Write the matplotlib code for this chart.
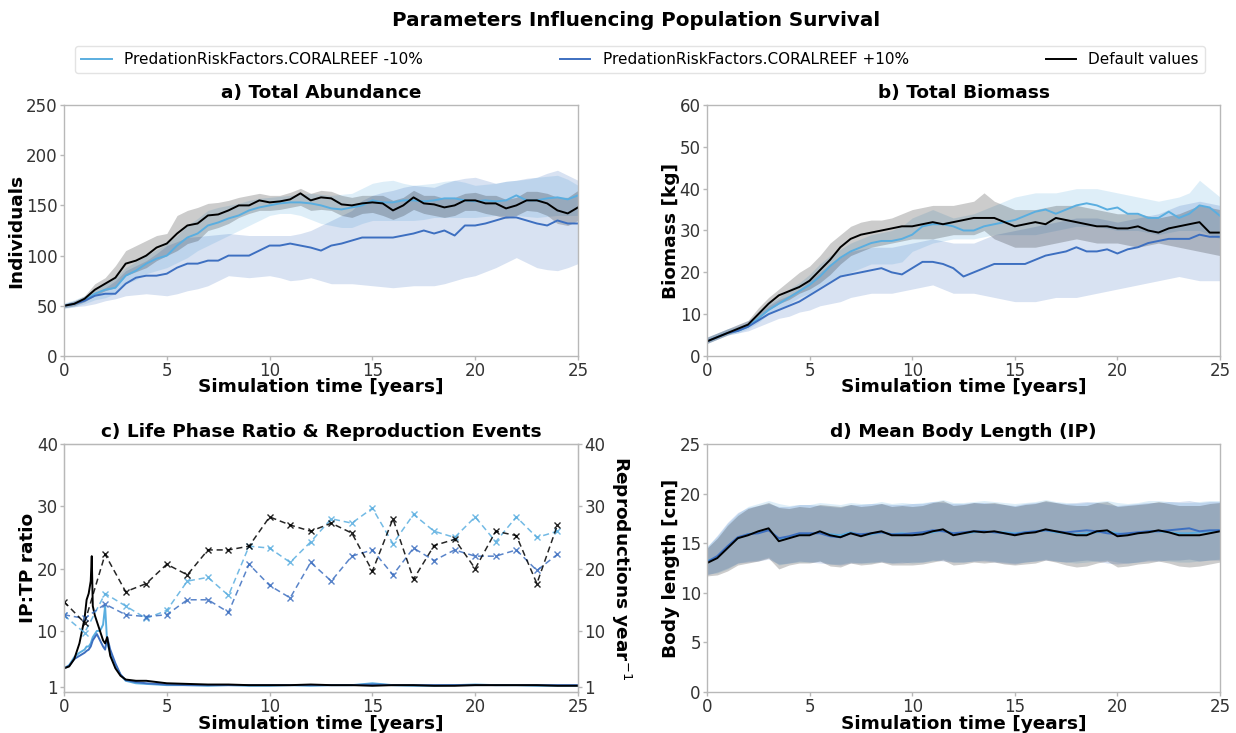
import numpy as np
import matplotlib
matplotlib.use("Agg")
import matplotlib.pyplot as plt
from matplotlib.lines import Line2D

# ---------------- data ----------------
years = np.arange(0, 25.5, 0.5)  # 0 .. 25, half-year steps

labels = ["PredationRiskFactors.CORALREEF -10%", "PredationRiskFactors.CORALREEF +10%", "Default values"]

# a) Total abundance
abund_def = [50,52,57,66,72,78,92,95,100,108,112,122,130,132,140,141,145,150,150,155,153,154,156,162,155,158,157,151,150,152,153,152,145,150,158,152,151,148,150,155,155,152,152,147,150,155,155,152,145,142,148]
abund_def_lo = [48,50,54,60,65,68,80,84,88,95,100,105,112,115,125,128,132,138,142,145,145,146,148,150,145,146,145,140,138,142,143,140,136,140,146,142,140,138,140,145,145,142,140,137,140,145,144,140,132,130,135]
abund_def_hi = [52,55,60,72,78,90,105,110,115,120,122,140,145,148,152,153,155,158,160,162,160,160,163,167,162,165,164,160,158,160,160,160,155,158,165,160,160,157,158,162,163,160,160,156,158,164,164,162,158,158,165]
abund_m10 = [50,52,56,62,66,68,80,85,92,97,100,110,118,122,130,133,137,140,145,148,150,152,153,153,152,150,147,146,148,150,155,153,153,155,155,154,155,157,157,155,154,155,154,155,160,155,155,157,158,156,160]
abund_m10_lo = [47,49,52,56,58,62,72,76,82,85,88,93,98,105,110,115,120,125,130,135,140,142,142,140,136,132,130,128,128,132,135,135,135,135,135,136,138,138,138,138,138,139,140,140,140,139,138,139,140,140,140]
abund_m10_hi = [53,56,60,66,72,78,88,94,100,106,112,120,130,137,145,148,150,152,155,157,158,159,160,161,162,161,160,161,162,167,172,174,175,172,170,171,172,174,175,173,170,171,172,174,175,176,178,179,180,176,170]
abund_p10 = [50,52,55,60,62,62,72,78,80,80,82,88,92,92,95,95,100,100,100,105,110,110,112,110,108,105,110,112,115,118,118,118,118,120,122,125,122,125,120,130,130,132,135,138,138,135,132,130,135,132,132]
abund_p10_lo = [48,49,50,52,55,57,60,61,62,61,60,62,65,67,70,75,80,79,78,79,80,78,75,76,78,75,72,72,72,71,70,69,68,69,70,70,70,72,75,78,80,84,88,93,98,93,88,86,85,88,92]
abund_p10_hi = [52,55,58,63,68,75,85,90,95,102,110,114,118,119,120,121,122,121,120,120,120,120,120,122,125,130,135,140,145,155,160,163,165,168,170,169,168,172,175,177,178,175,172,174,175,177,178,182,185,180,175]

# b) Total biomass
bio_def = [3.5,4.5,5.5,6.5,7.5,10,12.5,14.5,15.5,16.5,18,20.5,23,26,28,29,29.5,30,30.5,31,31,31.5,32,31.5,32,32.5,33,33,33,32,31,31.5,32,31.5,33,32.5,32,31.5,31,31,30.5,30.5,31,30,29.5,30.5,31,31.5,32,29.5,29.5]
bio_def_lo = [3,4,5,6,7,9,11,12.5,13.5,15,16,17.5,19.5,22,24,25,26,26.5,27,27.5,28,28,28,28.5,29,29,29,30,28,27,26,26,26,26.5,27,27.5,28,27.5,27,27,27,26.5,26,26.5,27,26.5,26,25.5,25,24.5,24]
bio_def_hi = [4.5,5.5,6.5,7.5,8.5,11.5,14,16,18,20,21.5,24,27,29,31,32,32.5,32.5,33,34,35,35.5,36,36,36,36.5,37,39,37,36,35,35,35,35.5,36,36,36,35.5,35,34.5,34,34,34,33.5,33,33.5,34,35,36,35.5,35]
bio_m10 = [3.5,4.5,5.5,6,7,9,11,12.5,14,15.5,17,19,21.5,23.5,25,26,27,27.5,27.5,28,29,31,31.5,31.5,31,30,30,31,31.5,32,32.5,33.5,34.5,35,34,35,36,36.5,36,35,35.5,34,34,33,33,34.5,33,34,36,35.5,33.5]
bio_m10_lo = [3,4,5,5.5,6.5,8,10,11,12.5,14,15,16.5,18,19,20,21,22,22,22,22.5,25,26,27,27.5,28,28,28,28.5,29,29,29,29,29,29.5,30,30.5,31,31,31,30.5,30,30,30,29.5,29,29.5,30,30,30,29,28]
bio_m10_hi = [4.5,5.5,6.5,7,8,10,12.5,14,16,17.5,19.5,22,24,25.5,27,28,29,29.5,30,31,33,34,35,34,33,33.5,34,35,36,37,38,38.5,39,39,39,39.5,40,40,40,39.5,39,38.5,38,37.5,37,37.5,38,39,42,40,38]
bio_p10 = [3.5,4.5,5.5,6,7,8.5,10,11,12,13,14.5,16,17.5,19,19.5,20,20.5,21,20,19.5,21,22.5,22.5,22,21,19,20,21,22,22,22,22,23,24,24.5,25,26,25,25,25.5,24.5,25.5,26,27,27.5,28,28,28,29,28.5,28.5]
bio_p10_lo = [3,4,5,5.5,6,7,8,9,9.5,10.5,11,12,12.5,13,14,14.5,15,15,15,15.5,16,16.5,17,16,15,15,15,14.5,14,13.5,13,13,13,13.5,14,14,14,14.5,15,15.5,16,16.5,17,17.5,18,18.5,19,18.5,18,18,18]
bio_p10_hi = [4.5,5.5,6.5,7.5,8.5,10,12,13.5,14.5,16,18,20,22,23.5,25,25.5,26,26,26,26.5,27,27.5,28,27.5,27,27,27,28,29,29.5,30,30.5,31,31.5,32,32.5,33,33,33,32.5,32,32.5,33,33.5,34,35,36,36.5,37,36.5,36]

# c) Life phase ratio (IP:TP) & reproduction events
ratio_t = [0,0.25,0.5,0.75,1.0,1.1,1.2,1.3,1.35,1.4,1.5,1.6,1.75,1.9,2.0,2.1,2.25,2.5,2.75,3,3.5,4,4.5,5,6,7,8,9,10,11,12,13,14,15,16,17,18,19,20,21,22,23,24,25]
ratio_def = [4,4.3,5.5,8,12,15,16,18,22,14,12.5,11.5,10,8.5,8,9,6,4,2.8,2.2,2,2,1.8,1.6,1.5,1.4,1.4,1.3,1.3,1.3,1.4,1.3,1.3,1.2,1.3,1.3,1.2,1.2,1.3,1.3,1.3,1.3,1.2,1.2]
ratio_m10 = [4,4.5,5.8,6.5,7,7.5,7.5,8,8.5,9,9.5,10,10,11,14,8,6.5,4.5,3,2,1.6,1.5,1.4,1.3,1.3,1.2,1.3,1.2,1.2,1.3,1.2,1.3,1.3,1.6,1.3,1.2,1.2,1.3,1.4,1.3,1.3,1.2,1.2,1.2]
ratio_p10 = [4,4.4,5.5,6,6.5,6.8,7,7.5,8,8.5,9,9.5,8.5,7.5,7,9,7,4.8,3,2.1,1.8,1.6,1.5,1.4,1.3,1.3,1.3,1.3,1.3,1.3,1.3,1.3,1.3,1.4,1.3,1.3,1.3,1.3,1.3,1.3,1.3,1.3,1.3,1.3]
repro_years = list(range(0, 25))
repro_def = [14.7,11.3,22.3,16.3,17.6,20.7,19,23,23,23.6,28.3,27,26,27.3,25.7,19.6,28,18.3,23.7,24.7,20,26,25.3,17.6,27]
repro_m10 = [12.5,9.7,16,14,12,13.3,18,18.6,15.7,23.6,23.3,21,24.3,28,27.3,29.7,24,28.7,26,25,28.3,24.3,28.3,25,26]
repro_p10 = [12.6,12,14.3,12.6,12.3,12.6,15,15,13,20.7,17.3,15.3,21,18,22,23,19,23.3,21.3,23,22,22,23,19.7,22.3]

# d) Mean body length (IP)
len_def = [13,13.5,14.5,15.5,15.8,16.2,16.5,15.2,15.5,15.8,15.8,16.2,15.8,15.6,16,15.7,16,16.2,15.8,15.8,15.8,15.9,16.2,16.4,15.8,16,16.2,16.1,16.2,16,15.8,16,16.1,16.4,16.2,16,15.8,15.8,16.2,16.3,15.7,15.8,16,16.1,16.3,16.1,15.8,15.8,15.8,16,16.2]
len_def_lo = [11.7,11.8,12.2,12.8,13.0,13.2,13.5,12.4,12.8,13.0,13.0,13.2,12.7,12.6,13.0,12.8,12.9,13.1,12.8,12.8,12.8,12.9,13.1,13.3,12.8,12.9,13.1,13.0,13.1,12.9,12.8,12.9,13.0,13.3,13.1,12.8,12.6,12.7,13.0,13.2,12.6,12.7,12.9,13.0,13.2,13.0,12.7,12.6,12.7,12.9,13.1]
len_def_hi = [14.5,15.5,16.8,17.8,18.5,18.8,19.1,18.6,18.5,18.7,18.6,18.9,18.8,18.7,18.9,18.7,18.8,19.0,18.7,18.8,18.7,18.8,19.1,19.3,18.8,18.9,19.1,19.0,19.1,18.9,18.7,18.9,19.0,19.3,19.1,18.9,18.8,18.8,19.1,19.2,18.7,18.8,18.9,19.0,19.2,19.0,18.8,18.8,18.8,19.0,19.1]
len_m10 = [13.2,13.6,14.6,15.5,15.9,16.1,16.4,15.4,15.6,15.9,15.9,16.1,15.9,15.8,16.1,15.8,15.9,16.1,15.9,16,15.9,16,16.1,16.3,16,16,16.1,16.2,16.1,16.1,16,16.1,16.2,16.3,16.1,16,15.9,16,16.1,16.2,16,15.9,16,16.2,16.2,16.1,16,16,16.1,16.2,16.3]
len_m10_lo = [11.9,12.0,12.4,13.0,13.2,13.3,13.6,12.8,13.0,13.1,13.1,13.2,12.9,12.9,13.1,13.0,13.0,13.2,13.0,13.1,13.0,13.1,13.2,13.4,13.1,13.1,13.2,13.3,13.2,13.1,13.0,13.1,13.2,13.4,13.2,13.1,13.0,13.1,13.2,13.3,13.1,13.0,13.1,13.3,13.3,13.2,13.1,13.1,13.2,13.3,13.4]
len_m10_hi = [14.7,15.7,17.0,18.0,18.7,19.0,19.3,19.0,18.8,18.9,18.9,19.1,19.0,18.9,19.1,19.0,19.0,19.2,19.0,19.1,19.0,19.1,19.2,19.4,19.1,19.1,19.2,19.3,19.2,19.1,19.0,19.1,19.2,19.4,19.2,19.1,19.0,19.1,19.2,19.3,19.1,19.0,19.1,19.3,19.3,19.2,19.1,19.1,19.2,19.3,19.3]
len_p10 = [13.1,13.7,14.7,15.6,15.9,16,16.3,15.5,15.7,16,16,16,15.7,15.6,16,15.9,16,16.1,15.9,15.9,16,16.1,16.3,16.2,16,16.1,16.2,16.2,16.1,16,15.9,16.1,16.2,16.3,16.2,16.1,16.2,16.3,16.2,16,15.9,16,16.1,16.2,16.2,16.3,16.4,16.5,16.2,16.3,16.3]
len_p10_lo = [11.8,12.1,12.5,13.0,13.1,13.2,13.4,12.9,13.0,13.2,13.1,13.0,12.9,12.8,13.0,13.0,13.1,13.1,13.0,13.0,13.1,13.1,13.3,13.2,13.1,13.1,13.2,13.2,13.1,13.0,12.9,13.1,13.2,13.3,13.2,13.1,13.2,13.3,13.2,13.0,12.9,13.0,13.1,13.2,13.2,13.3,13.3,13.4,13.2,13.3,13.3]
len_p10_hi = [14.6,15.8,17.1,18.1,18.6,18.8,19.0,18.7,18.7,18.9,18.9,18.8,18.7,18.6,18.9,18.9,19.0,19.0,18.9,18.9,19.0,19.0,19.2,19.1,19.0,19.0,19.1,19.1,19.0,18.9,18.8,19.0,19.1,19.2,19.1,19.0,19.1,19.2,19.1,18.9,18.8,18.9,19.0,19.1,19.1,19.2,19.2,19.3,19.1,19.2,19.2]

# ---------------- style ----------------
C_M10 = "#5aaee0"
C_P10 = "#3d6fc0"
C_DEF = "#000000"
SPINE = "#b8b8b8"
TICKC = "#333333"
LBL = 13.3
TICKSIZE = 12

plt.rcParams["font.family"] = ["DejaVu Sans"]

fig = plt.figure(figsize=(12.36, 7.33), dpi=100)
W, H = 1236.0, 733.0

def make_ax(l, r, t, b):
    return fig.add_axes([l / W, 1 - b / H, (r - l) / W, (b - t) / H])

ax_a = make_ax(64, 578, 105, 356)
ax_b = make_ax(707, 1220, 105, 356)
ax_c = make_ax(64, 578, 444, 692)
ax_d = make_ax(707, 1220, 444, 692)

def style(ax, ylab_x, xlab_y):
    for s in ax.spines.values():
        s.set_color(SPINE)
        s.set_linewidth(1.0)
    ax.tick_params(axis="both", colors=SPINE, labelcolor=TICKC, labelsize=TICKSIZE,
                   length=3, width=1, pad=1.5)
    ax.set_xlim(0, 25)
    ax.set_xticks([0, 5, 10, 15, 20, 25])
    ax.set_xlabel("Simulation time [years]", fontsize=LBL, fontweight="bold", va="center")
    ax.xaxis.set_label_coords(0.5, xlab_y)
    ax.yaxis.set_label_coords(ylab_x, 0.5)

def band_panel(ax, series, title, ylabel, ylim, yticks, ylab_x, xlab_y):
    for (m, lo, hi, c, a) in series:
        ax.fill_between(years, lo, hi, color=c, alpha=a, linewidth=0)
    for (m, lo, hi, c, a) in series:
        ax.plot(years, m, color=c, lw=1.4)
    ax.set_title(title, fontsize=LBL, fontweight="bold", pad=5)
    ax.set_ylabel(ylabel, fontsize=LBL, fontweight="bold", va="center")
    ax.set_ylim(*ylim)
    ax.set_yticks(yticks)
    style(ax, ylab_x, xlab_y)

band_panel(ax_a, [(abund_m10, abund_m10_lo, abund_m10_hi, C_M10, 0.2),
                  (abund_p10, abund_p10_lo, abund_p10_hi, C_P10, 0.2),
                  (abund_def, abund_def_lo, abund_def_hi, C_DEF, 0.2)],
           "a) Total Abundance", "Individuals", (0, 250), [0, 50, 100, 150, 200, 250],
           -0.093, -0.123)

band_panel(ax_b, [(bio_m10, bio_m10_lo, bio_m10_hi, C_M10, 0.2),
                  (bio_p10, bio_p10_lo, bio_p10_hi, C_P10, 0.2),
                  (bio_def, bio_def_lo, bio_def_hi, C_DEF, 0.2)],
           "b) Total Biomass", "Biomass [kg]", (0, 60), [0, 10, 20, 30, 40, 50, 60],
           -0.07, -0.123)

band_panel(ax_d, [(len_m10, len_m10_lo, len_m10_hi, C_M10, 0.2),
                  (len_p10, len_p10_lo, len_p10_hi, C_P10, 0.2),
                  (len_def, len_def_lo, len_def_hi, C_DEF, 0.2)],
           "d) Mean Body Length (IP)", "Body length [cm]", (0, 25), [0, 5, 10, 15, 20, 25],
           -0.07, -0.131)

# panel c
ax_c.plot(ratio_t, ratio_m10, color=C_M10, lw=1.4)
ax_c.plot(ratio_t, ratio_p10, color=C_P10, lw=1.4)
ax_c.plot(ratio_t, ratio_def, color=C_DEF, lw=1.4)
ax_c.set_ylim(0.2, 40)
ax_c.set_yticks([1, 10, 20, 30, 40])
ax_c.set_title("c) Life Phase Ratio & Reproduction Events", fontsize=LBL, fontweight="bold", pad=5)
ax_c.set_ylabel("IP:TP ratio", fontsize=LBL, fontweight="bold", va="center")
style(ax_c, -0.07, -0.131)

ax_c2 = ax_c.twinx()
for vals, c in [(repro_m10, C_M10), (repro_p10, C_P10), (repro_def, C_DEF)]:
    ax_c2.plot(repro_years, vals, color=c, ls=(0, (4, 2.5)), lw=1.1, marker="x", ms=5,
               mew=1.0, alpha=0.85)
ax_c2.set_ylim(0.2, 40)
ax_c2.set_yticks([1, 10, 20, 30, 40])
ax_c2.set_ylabel("Reproductions year$^{-1}$", fontsize=LBL, fontweight="bold",
                 rotation=270, va="center")
ax_c2.yaxis.set_label_coords(1.083, 0.5)
for s in ax_c2.spines.values():
    s.set_color(SPINE)
ax_c2.tick_params(axis="y", colors=SPINE, labelcolor=TICKC, labelsize=TICKSIZE,
                  length=3, width=1, pad=1.5)

# suptitle and legend
fig.suptitle("Parameters Influencing Population Survival", fontsize=14.3, fontweight="bold",
             x=636 / W, y=1 - 20 / H, va="center")
handles = [Line2D([], [], color=C_M10, lw=1.4),
           Line2D([], [], color=C_P10, lw=1.4),
           Line2D([], [], color=C_DEF, lw=1.4)]
fig.legend(handles, labels, loc="lower left", ncol=3, mode="expand",
           bbox_to_anchor=(75 / W, 1 - 73 / H, 1130 / W, 28 / H),
           fontsize=11, frameon=True, edgecolor="#dddddd", fancybox=True,
           handlelength=2.0, borderaxespad=0)

fig.savefig("out.png", dpi=100)
